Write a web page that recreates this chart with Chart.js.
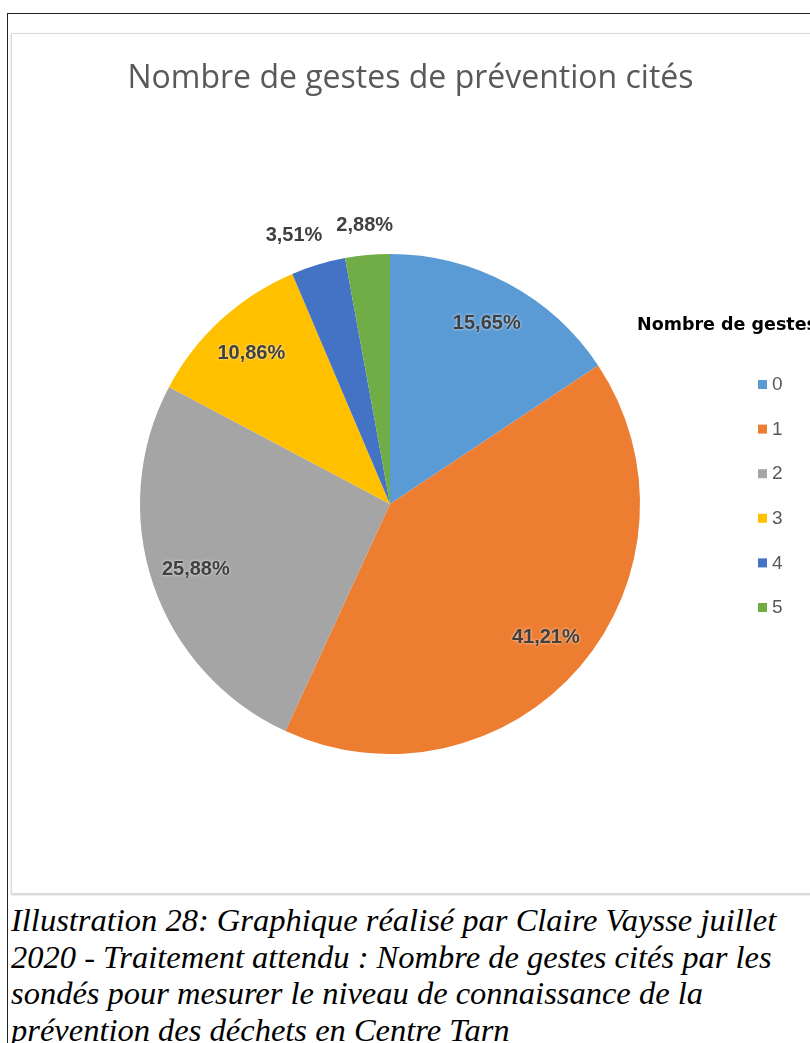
<!DOCTYPE html>
<html>
<head>
<meta charset="utf-8">
<script src="https://cdn.jsdelivr.net/npm/chart.js@4.4.1/dist/chart.umd.min.js"></script>
<style>
  body { margin: 0; background: #fff; width: 810px; height: 1043px; overflow: hidden; position: relative; }
  #frame { position: absolute; left: 7px; top: 13px; width: 820px; height: 1100px; border-left: 1px solid #222; border-top: 1px solid #222; }
  #box { position: absolute; left: 11px; top: 33px; width: 820px; height: 859px; border: 1px solid #d9d9d9; box-shadow: 0 1px 2px #ccc; background: #fff; }
  #chartWrap { position: absolute; left: 11px; top: 34px; width: 799px; height: 858px; }
  #title { position: absolute; left: 11px; width: 799px; top: 60px; text-align: center; font-family: "Open Sans", sans-serif; font-size: 32px; line-height: 32px; color: #595959; white-space: nowrap; }
  #caption { position: absolute; left: 11px; top: 902px; font-family: "Liberation Serif", serif; font-style: italic; font-size: 32.5px; line-height: 36.5px; color: #000; white-space: nowrap; }
</style>
</head>
<body>
<div id="frame"></div>
<div id="box"></div>
<div id="chartWrap"><canvas id="pieChart" width="799" height="858"></canvas></div>
<div id="title"></div>
<div id="caption">
  <div>Illustration 28: Graphique réalisé par Claire Vaysse juillet</div>
  <div>2020 - Traitement attendu : Nombre de gestes cités par les</div>
  <div>sondés pour mesurer le niveau de connaissance de la</div>
  <div>prévention des déchets en Centre Tarn</div>
</div>
<script>
// chart data
const categories = ['0', '1', '2', '3', '4', '5'];
const percentages = [15.65, 41.21, 25.88, 10.86, 3.51, 2.88];
const sliceColors = ['#5B9BD5', '#ED7D31', '#A5A5A5', '#FFC000', '#4472C4', '#70AD47'];
const chartTitle = 'Nombre de gestes de prévention cités';
const legendTitle = 'Nombre de gestes';

const formatPct = v => v.toFixed(2).replace('.', ',') + '%';

// title sits above the whole chart box (chart.js title would get squeezed by the padding)
document.getElementById('title').textContent = chartTitle;

// draws the percent labels on / outside the slices
const sliceLabels = {
  id: 'sliceLabels',
  afterDatasetsDraw(chart) {
    const ctx = chart.ctx;
    const meta = chart.getDatasetMeta(0);
    ctx.save();
    ctx.font = 'bold 20px "Liberation Sans", sans-serif';
    ctx.textAlign = 'center';
    ctx.textBaseline = 'middle';
    const spots = meta.data.map((arc, i) => {
      const p = arc.getProps(['x', 'y', 'startAngle', 'endAngle', 'outerRadius'], true);
      const mid = (p.startAngle + p.endAngle) / 2;
      const outside = percentages[i] < 5;
      const dist = outside ? p.outerRadius + 30 : p.outerRadius * 0.82;
      const text = formatPct(percentages[i]);
      return { x: p.x + Math.cos(mid) * dist, y: p.y + Math.sin(mid) * dist, outside, text, w: ctx.measureText(text).width };
    });
    // push small outside labels apart (last slice wins, earlier ones move left)
    let prevLeft = null;
    for (let i = spots.length - 1; i >= 0; i--) {
      const s = spots[i];
      if (!s.outside) continue;
      if (prevLeft !== null && s.x + s.w / 2 > prevLeft - 14) s.x = prevLeft - 14 - s.w / 2;
      prevLeft = s.x - s.w / 2;
    }
    spots.forEach(s => {
      ctx.shadowColor = 'rgba(255,255,255,0.8)';
      ctx.shadowBlur = 3;
      ctx.fillStyle = '#404040';
      ctx.fillText(s.text, s.x, s.y);
    });
    ctx.restore();
  }
};

// legend on the right, drawn by hand to keep Excel spacing
const sideLegend = {
  id: 'sideLegend',
  afterDraw(chart) {
    const ctx = chart.ctx;
    ctx.save();
    ctx.textBaseline = 'middle';
    ctx.fillStyle = '#000';
    ctx.font = 'bold 17.5px "DejaVu Sans", sans-serif';
    ctx.fillText(legendTitle, 626, 291);
    ctx.font = '19px "Liberation Sans", sans-serif';
    categories.forEach((c, i) => {
      const y = 351 + i * 44.6;
      ctx.fillStyle = sliceColors[i];
      ctx.fillRect(747, y - 5, 9, 9);
      ctx.fillStyle = '#595959';
      ctx.fillText(c, 761, y);
    });
    ctx.restore();
  }
};

new Chart(document.getElementById('pieChart'), {
  type: 'pie',
  data: {
    labels: categories,
    datasets: [{
      data: percentages,
      backgroundColor: sliceColors,
      borderWidth: 0
    }]
  },
  options: {
    responsive: false,
    animation: false,
    layout: { padding: { left: 129, right: 170, top: 220, bottom: 138 } },
    plugins: {
      legend: { display: false },
      tooltip: { enabled: false },
      title: { display: false }
    }
  },
  plugins: [sliceLabels, sideLegend]
});
</script>
</body>
</html>
